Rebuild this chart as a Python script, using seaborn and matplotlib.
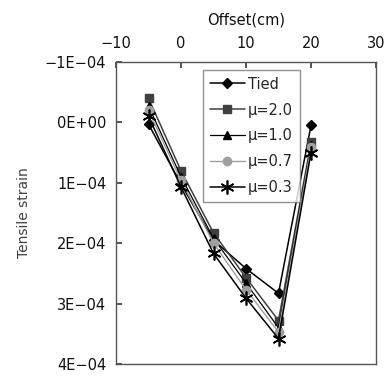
import matplotlib
matplotlib.use("Agg")
import matplotlib.pyplot as plt
import seaborn as sns
import pandas as pd
from matplotlib.ticker import FuncFormatter, FixedLocator

sns.set_theme(style="white")
plt.rcParams['font.family'] = ['DejaVu Sans']

offset = [-5, 0, 5, 10, 15, 20]
tied = [0.03e-4, 1.02e-4, 1.95e-4, 2.42e-4, 2.83e-4, 0.05e-4]
mu20 = [-0.40e-4, 0.80e-4, 1.83e-4, 2.57e-4, 3.28e-4, 0.33e-4]
mu10 = [-0.27e-4, 0.90e-4, 1.92e-4, 2.66e-4, 3.40e-4, 0.38e-4]
mu07 = [-0.20e-4, 0.96e-4, 2.00e-4, 2.77e-4, 3.47e-4, 0.41e-4]
mu03 = [-0.10e-4, 1.07e-4, 2.17e-4, 2.91e-4, 3.58e-4, 0.50e-4]

labels = ["Tied", "\u03bc=2.0", "\u03bc=1.0", "\u03bc=0.7", "\u03bc=0.3"]
series = [tied, mu20, mu10, mu07, mu03]
colors = ["#000000", "#404040", "#000000", "#a0a0a0", "#000000"]
markers = ["D", "s", "^", "o", (6, 2, 0)]
msizes = [5.5, 6, 6, 6, 10]
lws = [1.1, 1.1, 0.9, 1.0, 1.1]

fig = plt.figure(figsize=(3.92, 3.80), dpi=100)
ax = fig.add_axes([116/392, 1-364/380, (376-116)/392, (364-62)/380])

for lab, vals, c, m, ms, lw in zip(labels, series, colors, markers, msizes, lws):
    df = pd.DataFrame({"x": offset, "y": vals})
    sns.lineplot(data=df, x="x", y="y", ax=ax, color=c, marker=m, markersize=ms,
                 markeredgecolor=c, markerfacecolor=c, linewidth=lw, label=lab,
                 markeredgewidth=1.0 if m != (6, 2, 0) else 1.2)

ax.set_xlim(-10, 30)
ax.set_ylim(4e-4, -1e-4)
ax.xaxis.set_major_locator(FixedLocator([-10, 0, 10, 20, 30]))
ax.yaxis.set_major_locator(FixedLocator([-1e-4, 0, 1e-4, 2e-4, 3e-4, 4e-4]))

def yfmt(v, pos):
    s = f"{v:.0E}"
    return s.replace("-", "\u2212")

def xfmt(v, pos):
    return f"{int(round(v))}".replace("-", "\u2212")

ax.yaxis.set_major_formatter(FuncFormatter(yfmt))
ax.xaxis.set_major_formatter(FuncFormatter(xfmt))
ax.xaxis.tick_top()
ax.xaxis.set_label_position("top")
ax.tick_params(axis="x", which="both", direction="in", length=4, top=True, bottom=False,
               labelsize=10.5, pad=8, color="#404040", labelcolor="#111111")
ax.tick_params(axis="y", which="both", direction="in", length=4, left=True, right=False,
               labelsize=10.5, pad=7, color="#404040", labelcolor="#111111")
ax.set_xlabel("Offset(cm)", fontsize=10.5, labelpad=8, color="#111111")
ax.set_ylabel("Tensile strain", fontsize=10, labelpad=10, color="#404040")
for sp in ax.spines.values():
    sp.set_color("#555555")
    sp.set_linewidth(1.0)
    sp.set_visible(True)

leg = ax.legend(loc="upper left", bbox_to_anchor=((203-116)/260, (364-70)/302),
                fontsize=10.5, frameon=True, fancybox=False, handlelength=2.4,
                handletextpad=0.25, borderpad=0.45, labelspacing=0.75, borderaxespad=0)
leg.get_frame().set_edgecolor("#777777")
leg.get_frame().set_linewidth(1.0)

fig.savefig("out.png", dpi=100)
